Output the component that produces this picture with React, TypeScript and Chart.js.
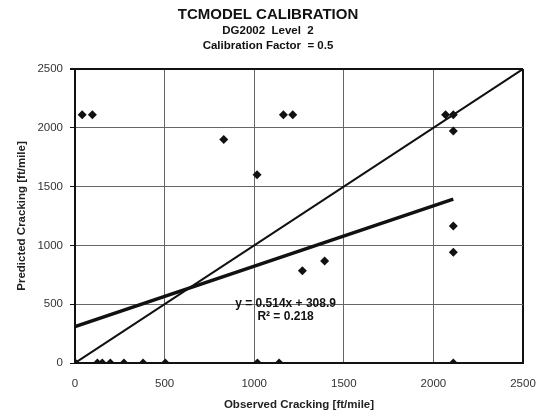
import React, { useEffect, useRef } from "react";
import { Chart, registerables } from "chart.js";

Chart.register(...registerables);

const observed = [0, 0, 0, 40, 97, 125, 152, 197, 273, 380, 504, 830, 1016, 1018, 1139, 1163, 1215, 1269, 1393, 2068, 2111, 2111, 2111, 2111, 2111];
const predicted = [0, 0, 0, 2110, 2110, 0, 0, 0, 0, 0, 0, 1900, 1600, 0, 0, 2110, 2110, 785, 867, 2110, 2110, 1973, 1165, 941, 0];
const trendX = [0, 2111];
const slope = 0.514;
const intercept = 308.9;
const equalityX = [0, 2500];
const xTicks = [0, 500, 1000, 1500, 2000, 2500];
const yTicks = [0, 500, 1000, 1500, 2000, 2500];
const titleLines = ["TCMODEL CALIBRATION", "DG2002  Level  2", "Calibration Factor  = 0.5"];
const eqLines = ["y = 0.514x + 308.9", "R\u00B2 = 0.218"];

const FONT = "'Liberation Sans', Arial, sans-serif";

export default function App() {
  const ref = useRef<HTMLCanvasElement>(null);
  useEffect(() => {
    document.body.style.margin = "0";
    const ctx = ref.current!;
    const textPlugin = {
      id: "texts",
      afterDraw(chart: any) {
        const c = chart.ctx;
        c.save();
        c.fillStyle = "#111";
        c.textAlign = "center";
        c.textBaseline = "middle";
        c.font = `bold 15px ${FONT}`;
        c.fillText(titleLines[0], 268, 15);
        c.font = `bold 11.5px ${FONT}`;
        c.fillText(titleLines[1], 268, 31);
        c.fillText(titleLines[2], 268, 46);
        const xs = chart.scales.x, ys = chart.scales.y;
        const cx = xs.getPixelForValue(1175);
        const cy = ys.getPixelForValue(505);
        c.font = `bold 12px ${FONT}`;
        c.fillText(eqLines[0], cx, cy);
        c.fillText(eqLines[1], cx, cy + 13);
        c.restore();
      },
    };
    const chart = new Chart(ctx, {
      type: "scatter",
      data: {
        datasets: [
          {
            data: observed.map((x, i) => ({ x, y: predicted[i] })),
            pointStyle: "rectRot",
            pointRadius: 4.5,
            backgroundColor: "#111",
            borderColor: "#111",
            borderWidth: 0,
            showLine: false,
          },
          {
            data: trendX.map((x) => ({ x, y: slope * x + intercept })),
            showLine: true,
            borderColor: "#111",
            borderWidth: 3.5,
            pointRadius: 0,
          },
          {
            data: equalityX.map((x) => ({ x, y: x })),
            showLine: true,
            borderColor: "#111",
            borderWidth: 2,
            pointRadius: 0,
          },
        ],
      },
      options: {
        animation: false,
        responsive: true,
        maintainAspectRatio: false,
        layout: { padding: { top: 69, right: 19, left: 0, bottom: 0 } },
        plugins: { legend: { display: false }, tooltip: { enabled: false } },
        scales: {
          x: {
            type: "linear",
            min: 0,
            max: 2500,
            afterBuildTicks: (s: any) => { s.ticks = xTicks.map((v) => ({ value: v })); },
            afterFit: (s: any) => { s.height = 56; s.paddingLeft = 0; s.paddingRight = 0; },
            ticks: { color: "#333", font: { family: FONT, size: 11.5 }, padding: 14, maxRotation: 0, callback: (v: any) => String(v) },
            grid: {
              drawTicks: false,
              color: (c: any) => (c.tick && c.tick.value === 2500 ? "#111" : "#666"),
              lineWidth: (c: any) => (c.tick && c.tick.value === 2500 ? 2 : 1),
            },
            border: { color: "#111", width: 2 },
            title: {
              display: true,
              text: "Observed Cracking [ft/mile]",
              color: "#222",
              font: { family: FONT, size: 11.5, weight: "bold" },
              padding: { top: 0, bottom: 7 },
            },
          },
          y: {
            type: "linear",
            min: 0,
            max: 2500,
            afterBuildTicks: (s: any) => { s.ticks = yTicks.map((v) => ({ value: v })); },
            afterFit: (s: any) => { s.width = 75; s.paddingTop = 0; s.paddingBottom = 0; },
            ticks: { color: "#333", font: { family: FONT, size: 11.5 }, padding: 7, callback: (v: any) => String(v) },
            grid: {
              drawTicks: true,
              tickLength: 5,
              tickColor: "#111",
              color: (c: any) => (c.tick && c.tick.value === 2500 ? "#111" : "#666"),
              lineWidth: (c: any) => (c.tick && c.tick.value === 2500 ? 2 : 1),
            },
            border: { color: "#111", width: 2 },
            title: {
              display: true,
              text: "Predicted Cracking [ft/mile]",
              color: "#222",
              font: { family: FONT, size: 11.5, weight: "bold" },
              padding: { top: 15, bottom: 0 },
            },
          },
        },
      },
      plugins: [textPlugin],
    } as any);
    return () => chart.destroy();
  }, []);
  return (
    <div style={{ position: "relative", width: 542, height: 419, background: "#fff" }}>
      <canvas ref={ref} />
    </div>
  );
}
